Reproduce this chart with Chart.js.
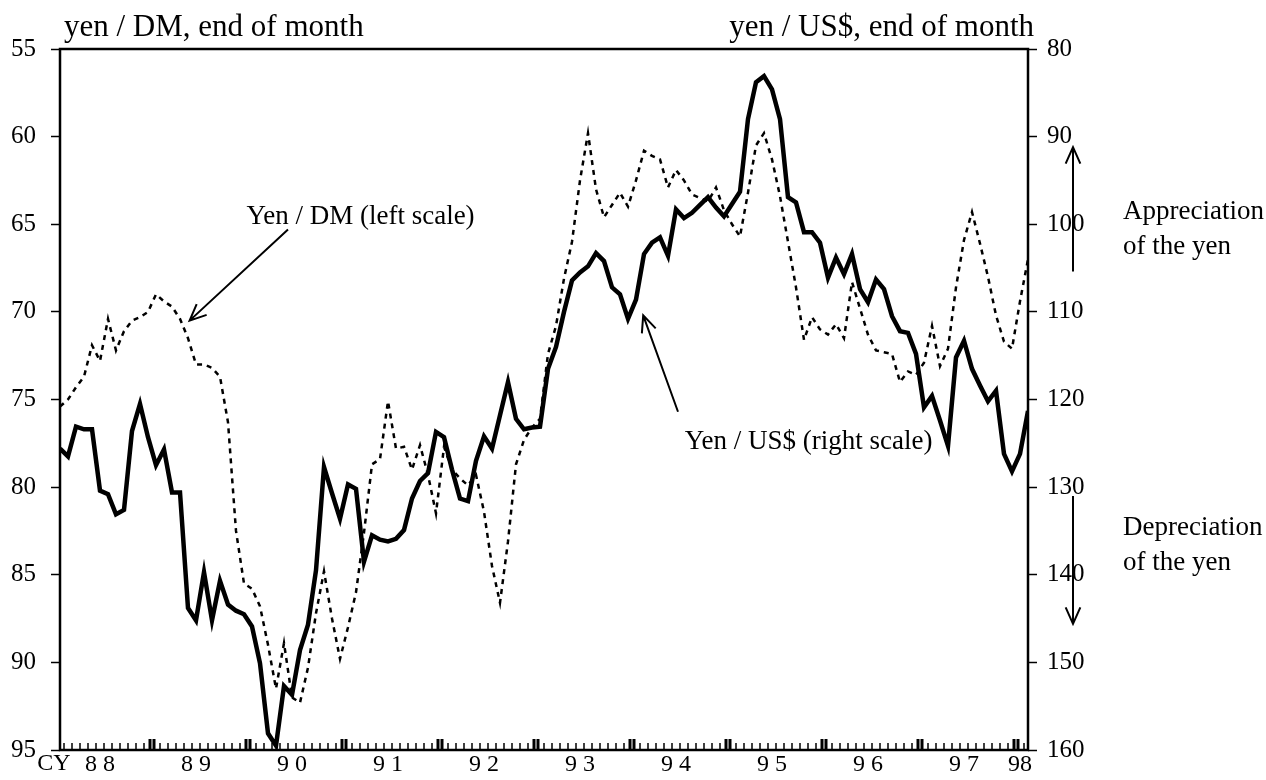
<!DOCTYPE html>
<html>
<head>
<meta charset="utf-8">
<script src="https://cdn.jsdelivr.net/npm/chart.js@4.4.1/dist/chart.umd.min.js"></script>
<style>
    html, body { margin: 0; padding: 0; background: #fff; }
    #wrap { width: 1266px; height: 780px; }
</style>
</head>
<body>
<div id="wrap"><canvas id="chart" width="1266" height="780"></canvas></div>
<script>
// Month index 0 = Jan 1988 ... 121 = Feb 1998, end of month values

// yen / US$ (right scale)
const usdYen = [
    125.6, 126.5, 123.1, 123.4, 123.4, 130.4, 130.8, 133.1, 132.6, 123.6, 120.5, 124.3,
    127.5, 125.7, 130.6, 130.6, 143.8, 145.2, 139.7, 145.2, 140.7, 143.4, 144.1, 144.5,
    145.9, 150.1, 158.1, 159.5, 152.7, 153.7, 148.6, 145.7, 139.5, 127.7, 130.7, 133.6,
    129.7, 130.2, 138.5, 135.5, 136.0, 136.2, 135.9, 134.9, 131.3, 129.3, 128.4, 123.7,
    124.3, 128.0, 131.3, 131.6, 127.0, 124.2, 125.6, 121.8, 118.0, 122.2, 123.4, 123.2,
    123.1, 116.5, 114.0, 110.0, 106.4, 105.5, 104.8, 103.3, 104.2, 107.2, 108.0, 110.8,
    108.6, 103.4, 102.1, 101.5, 103.6, 98.3, 99.3, 98.7, 97.8, 96.9, 98.1, 99.1,
    97.7, 96.3, 88.0, 83.8, 83.1, 84.6, 88.0, 96.9, 97.5, 100.9, 100.9, 102.1,
    106.1, 103.8, 105.7, 103.4, 107.4, 108.9, 106.3, 107.4, 110.5, 112.2, 112.4, 114.8,
    120.9, 119.6, 122.4, 125.3, 115.2, 113.3, 116.5, 118.4, 120.2, 119.0, 126.2, 128.2,
    126.2, 121.3
];

// yen / DM (left scale)
const dmYen = [
    75.4, 75.0, 74.3, 73.7, 71.9, 72.8, 70.4, 72.2, 71.1, 70.5, 70.3, 70.0,
    69.0, 69.4, 69.7, 70.4, 71.5, 73.0, 73.0, 73.2, 73.7, 76.3, 82.5, 85.5,
    85.8, 86.8, 89.0, 91.5, 88.9, 92.0, 92.3, 90.3, 87.2, 84.8, 87.5, 89.8,
    88.0, 86.0, 82.6, 78.7, 78.4, 75.1, 77.8, 77.7, 79.0, 77.6, 79.3, 81.5,
    77.7, 79.0, 79.5, 79.9, 79.3, 81.4, 84.5, 86.6, 83.1, 78.7, 77.3, 76.6,
    76.1, 72.4, 70.8, 68.1, 66.0, 62.5, 59.8, 63.0, 64.6, 63.9, 63.2, 64.0,
    62.5, 60.8, 61.1, 61.3, 62.9, 61.9, 62.5, 63.3, 63.5, 63.7, 62.9, 64.2,
    65.0, 65.7, 63.2, 60.5, 59.8, 61.3, 63.4, 66.0, 68.6, 71.6, 70.3, 71.0,
    71.3, 70.7, 71.5, 68.3, 69.8, 71.3, 72.2, 72.3, 72.4, 74.0, 73.4, 73.6,
    72.9, 70.8, 73.1, 72.1, 68.6, 65.9, 64.3, 66.1, 68.0, 70.2, 71.7, 72.1,
    69.4, 67.0
];

// year labels along the bottom and the month index they sit under
const yearLabels = ['8 8', '8 9', '9 0', '9 1', '9 2', '9 3', '9 4', '9 5', '9 6', '9 7', '98'];
const yearLabelPos = [5, 17, 29, 41, 53, 65, 77, 89, 101, 113, 120];

const serif = "'Liberation Serif', 'Times New Roman', serif";

// draw an arrow with an open V head at (x2, y2)
function arrow(ctx, x1, y1, x2, y2) {
    const a = Math.atan2(y2 - y1, x2 - x1);
    const len = 18, spread = 0.42;
    ctx.beginPath();
    ctx.moveTo(x1, y1);
    ctx.lineTo(x2, y2);
    ctx.moveTo(x2 - len * Math.cos(a - spread), y2 - len * Math.sin(a - spread));
    ctx.lineTo(x2, y2);
    ctx.lineTo(x2 - len * Math.cos(a + spread), y2 - len * Math.sin(a + spread));
    ctx.stroke();
}

// frame, month ticks, titles and notes
const decor = {
    id: 'decor',
    afterDraw(chart) {
        const ctx = chart.ctx;
        const area = chart.chartArea;
        const xs = chart.scales.x;
        const yl = chart.scales.yL;
        ctx.save();
        ctx.strokeStyle = '#000';
        ctx.fillStyle = '#000';

        // plot frame
        ctx.lineWidth = 2.5;
        ctx.strokeRect(area.left, area.top, area.right - area.left, area.bottom - area.top);

        // month ticks pointing up, doubled at the turn of the year
        for (let i = 0; i < usdYen.length - 1; i++) {
            const x = xs.getPixelForValue(i + 0.5);
            if ((i + 1) % 12 === 0) {
                ctx.lineWidth = 3;
                [-2, 2].forEach(d => {
                    ctx.beginPath();
                    ctx.moveTo(x + d, area.bottom);
                    ctx.lineTo(x + d, area.bottom - 11);
                    ctx.stroke();
                });
            } else {
                ctx.lineWidth = 1.5;
                ctx.beginPath();
                ctx.moveTo(x, area.bottom);
                ctx.lineTo(x, area.bottom - 7);
                ctx.stroke();
            }
        }

        // titles above the axes
        ctx.font = '31px ' + serif;
        ctx.textBaseline = 'alphabetic';
        ctx.textAlign = 'left';
        ctx.fillText('yen / DM, end of month', 64, 36);
        ctx.textAlign = 'right';
        ctx.fillText('yen / US$, end of month', 1034, 36);

        // CY before the first year
        ctx.font = '24px ' + serif;
        ctx.textAlign = 'center';
        ctx.textBaseline = 'middle';
        ctx.fillText('CY', 54, area.bottom + 14);

        // series notes
        ctx.font = '27px ' + serif;
        ctx.textAlign = 'left';
        ctx.fillText('Yen / DM (left scale)', xs.getPixelForValue(23.3), yl.getPixelForValue(64.6));
        ctx.fillText('Yen / US$ (right scale)', xs.getPixelForValue(78.1), yl.getPixelForValue(77.4));
        ctx.lineWidth = 2;
        arrow(ctx, xs.getPixelForValue(28.5), yl.getPixelForValue(65.3),
                   xs.getPixelForValue(16.2), yl.getPixelForValue(70.5));
        arrow(ctx, xs.getPixelForValue(77.25), yl.getPixelForValue(75.7),
                   xs.getPixelForValue(72.9), yl.getPixelForValue(70.2));

        // appreciation / depreciation at the right
        const ax = 1073, tx = 1123;
        arrow(ctx, ax, yl.getPixelForValue(67.7), ax, yl.getPixelForValue(60.6));
        arrow(ctx, ax, yl.getPixelForValue(80.5), ax, yl.getPixelForValue(87.8));
        ctx.fillText('Appreciation', tx, yl.getPixelForValue(64.3));
        ctx.fillText('of the yen', tx, yl.getPixelForValue(66.3));
        ctx.fillText('Depreciation', tx, yl.getPixelForValue(82.3));
        ctx.fillText('of the yen', tx, yl.getPixelForValue(84.3));
        ctx.restore();
    }
};

const ctx = document.getElementById('chart').getContext('2d');

new Chart(ctx, {
    type: 'line',
    data: {
        datasets: [
            {
                label: 'Yen / US$',
                data: usdYen.map((v, i) => ({ x: i, y: v })),
                yAxisID: 'yR',
                borderColor: '#000',
                borderWidth: 4.5,
                pointRadius: 0,
                tension: 0
            },
            {
                label: 'Yen / DM',
                data: dmYen.map((v, i) => ({ x: i, y: v })),
                yAxisID: 'yL',
                borderColor: '#000',
                borderWidth: 2.5,
                borderDash: [5, 5],
                pointRadius: 0,
                tension: 0
            }
        ]
    },
    options: {
        responsive: false,
        animation: false,
        layout: { padding: { top: 49, left: 0, right: 0, bottom: 0 } },
        plugins: {
            legend: { display: false },
            tooltip: { enabled: false }
        },
        scales: {
            x: {
                type: 'linear',
                min: 0,
                max: usdYen.length - 1,
                afterBuildTicks: s => { s.ticks = yearLabelPos.map(v => ({ value: v })); },
                afterFit: s => { s.height = 28; },
                grid: { display: false, drawTicks: false },
                border: { display: false },
                ticks: {
                    autoSkip: false,
                    maxRotation: 0,
                    padding: 0,
                    color: '#000',
                    font: { family: serif, size: 24 },
                    callback: (v, i) => yearLabels[i]
                }
            },
            yL: {
                position: 'left',
                reverse: true,
                min: 55,
                max: 95,
                afterFit: s => { s.width = 60; },
                grid: { drawOnChartArea: false, tickLength: 9, tickColor: '#000', tickWidth: 1.5 },
                border: { display: false },
                ticks: { stepSize: 5, padding: 15, color: '#000', font: { family: serif, size: 25 } }
            },
            yR: {
                position: 'right',
                reverse: true,
                min: 80,
                max: 160,
                afterFit: s => { s.width = 238; },
                grid: { drawOnChartArea: false, tickLength: 9, tickColor: '#000', tickWidth: 1.5 },
                border: { display: false },
                ticks: { stepSize: 10, padding: 10, color: '#000', font: { family: serif, size: 25 } }
            }
        }
    },
    plugins: [decor]
});
</script>
</body>
</html>
